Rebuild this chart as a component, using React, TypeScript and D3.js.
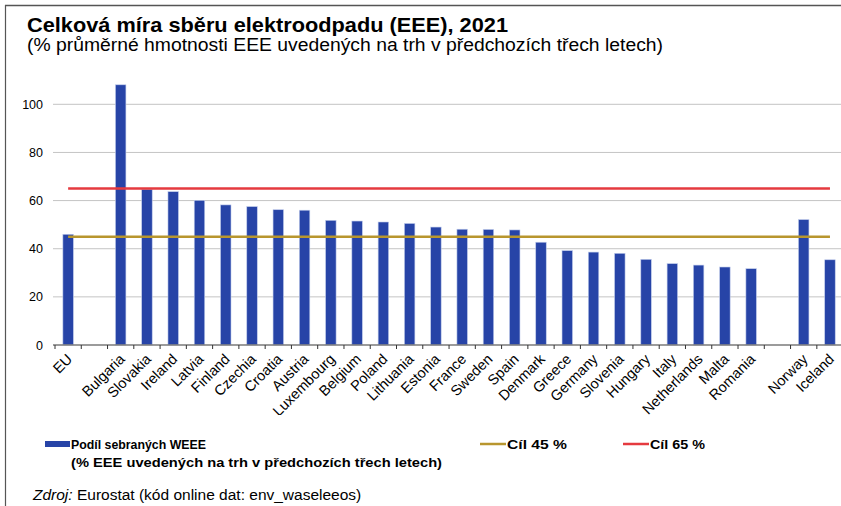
import React from "react";
import * as d3 from "d3";

const categories = ["EU", "", "Bulgaria", "Slovakia", "Ireland", "Latvia", "Finland", "Czechia", "Croatia", "Austria", "Luxembourg", "Belgium", "Poland", "Lithuania", "Estonia", "France", "Sweden", "Spain", "Denmark", "Greece", "Germany", "Slovenia", "Hungary", "Italy", "Netherlands", "Malta", "Romania", "", "Norway", "Iceland"];
const values: (number | null)[] = [46.0, null, 108.1, 64.7, 63.7, 60.1, 58.2, 57.5, 56.2, 56.0, 51.8, 51.5, 51.1, 50.5, 49.0, 48.1, 48.0, 47.8, 42.7, 39.2, 38.6, 38.1, 35.6, 33.8, 33.2, 32.4, 31.7, null, 52.1, 35.4];
const yTicks = [0, 20, 40, 60, 80, 100];
const target45 = 45;
const target65 = 65;

const title = "Celková míra sběru elektroodpadu (EEE), 2021";
const subtitle = "(% průměrné hmotnosti EEE uvedených na trh v předchozích třech letech)";
const legendBar1 = "Podíl sebraných WEEE";
const legendBar2 = "(% EEE uvedených na trh v předchozích třech letech)";
const legend45 = "Cíl  45 %";
const legend65 = "Cíl 65 %";

const W = 841;
const H = 506;
const FONT = "'Liberation Sans', Arial, Helvetica, sans-serif";

export default function App() {
  const x = d3.scaleBand<number>().domain(d3.range(categories.length)).range([55, 55 + 26.27 * categories.length]).paddingInner(0).paddingOuter(0);
  const y = d3.scaleLinear().domain([0, 100]).range([345, 104.3]);
  const bw = 10.5;
  const xc = (i: number) => (x(i) as number) + x.bandwidth() / 2;
  const lineX1 = xc(0);
  const lineX2 = xc(categories.length - 1);

  return (
    <div style={{ position: "absolute", left: 0, top: 0 }}>
      <svg width={W} height={H} style={{ display: "block", background: "#fff" }} fontFamily={FONT}>
        <defs>
          <clipPath id="lblclip">
            <rect x={0} y={346} width={W} height={69} />
          </clipPath>
        </defs>
        {/* frame */}
        <line x1={5} x2={W} y1={5.5} y2={5.5} stroke="#555" strokeWidth={1.5} />
        <line x1={5.5} x2={5.5} y1={5} y2={H} stroke="#555" strokeWidth={1.2} />

        <text x={27} y={32} fontSize={20.5} fontWeight="bold" fill="#000" textLength={481} lengthAdjust="spacingAndGlyphs">{title}</text>
        <text x={27} y={51} fontSize={17.5} fill="#000" textLength={636} lengthAdjust="spacingAndGlyphs">{subtitle}</text>

        {/* gridlines */}
        {yTicks.filter((t) => t > 0).map((t) => (
          <line key={t} x1={53} x2={W} y1={y(t)} y2={y(t)} stroke="#c4c4c4" strokeWidth={1} />
        ))}
        {yTicks.map((t) => (
          <text key={"l" + t} x={43} y={y(t) + 4.5} fontSize={12.5} textAnchor="end" fill="#000">{t}</text>
        ))}

        {/* bars */}
        {values.map((v, i) =>
          v == null ? null : (
            <rect key={i} x={xc(i) - bw / 2} y={y(v)} width={bw} height={y(0) - y(v)} fill="#2744a7" stroke="#c2cdec" strokeWidth={0.6} />
          )
        )}

        {/* axis */}
        <line x1={53} x2={W} y1={y(0)} y2={y(0)} stroke="#7a7a7a" strokeWidth={1.5} />
        {d3.range(categories.length + 1).map((i) => {
          const tx = 55 + 26.27 * i;
          return <line key={"t" + i} x1={tx} x2={tx} y1={y(0)} y2={y(0) + 4} stroke="#333" strokeWidth={1} />;
        })}

        {/* targets */}
        <line x1={lineX1} x2={lineX2} y1={y(target65)} y2={y(target65)} stroke="#e53a3f" strokeWidth={2.5} />
        <line x1={lineX1} x2={lineX2} y1={y(target45)} y2={y(target45)} stroke="#b8962e" strokeWidth={2.5} />

        {/* x labels */}
        <g clipPath="url(#lblclip)">
          {categories.map((c, i) =>
            c === "" ? null : (
              <text key={"c" + i} transform={`translate(${xc(i) + 5},${y(0) + 15}) rotate(-45)`} fontSize={14.5} textAnchor="end" fill="#000">{c}</text>
            )
          )}
        </g>

        {/* legend */}
        <rect x={45} y={441} width={25} height={6} fill="#2744a7" />
        <text x={71} y={449} fontSize={13} fontWeight="bold" textLength={135} lengthAdjust="spacingAndGlyphs">{legendBar1}</text>
        <text x={71} y={467} fontSize={13} fontWeight="bold" textLength={371} lengthAdjust="spacingAndGlyphs">{legendBar2}</text>
        <line x1={480} x2={506} y1={444} y2={444} stroke="#b8962e" strokeWidth={2.5} />
        <text x={507} y={449} fontSize={13} fontWeight="bold" textLength={60} lengthAdjust="spacingAndGlyphs">{legend45}</text>
        <line x1={623} x2={649} y1={444} y2={444} stroke="#e53a3f" strokeWidth={2.5} />
        <text x={650} y={449} fontSize={13} fontWeight="bold" textLength={55} lengthAdjust="spacingAndGlyphs">{legend65}</text>

        <text x={33} y={500} fontSize={15.5} fill="#000">
          <tspan fontStyle="italic">Zdroj:</tspan>
          <tspan> Eurostat (kód online dat: env_waseleeos)</tspan>
        </text>
      </svg>
    </div>
  );
}
